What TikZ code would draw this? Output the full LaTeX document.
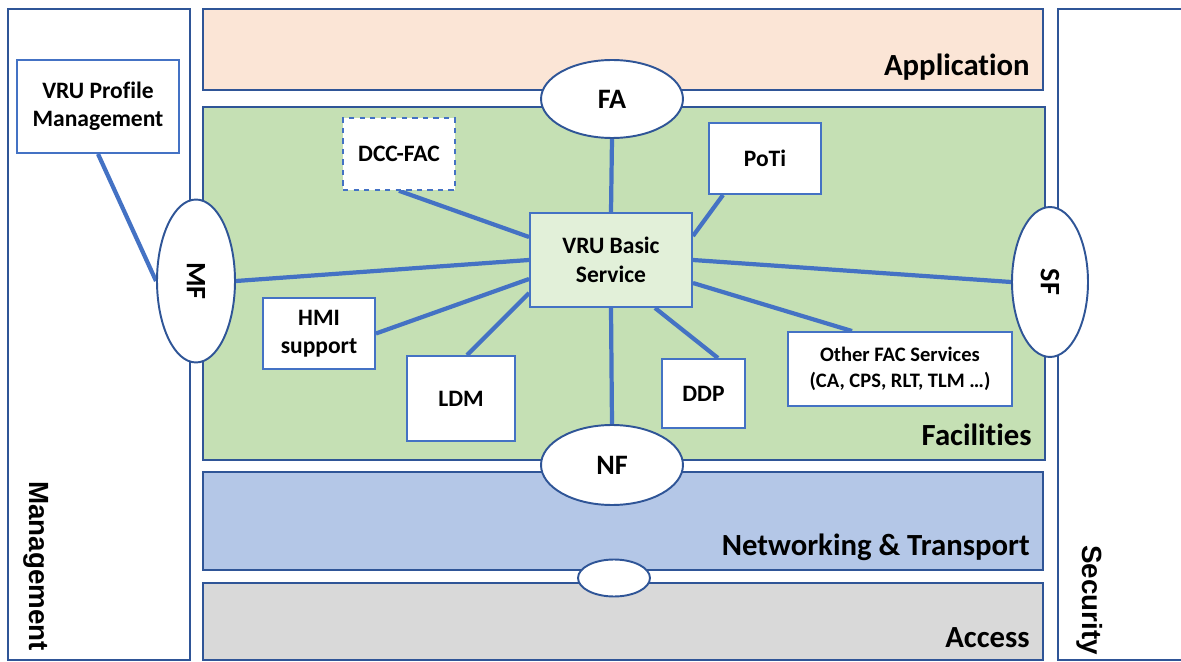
\documentclass[tikz,border=0pt]{standalone}
\usepackage{fontspec}
\setmainfont{Carlito}[Ligatures=NoCommon]
\newfontfamily\arialf{Liberation Sans}
\usetikzlibrary{shapes.geometric}
\definecolor{bord}{HTML}{4472C4}
\definecolor{dbord}{HTML}{2F5597}
\definecolor{appc}{HTML}{FBE5D6}
\definecolor{facc}{HTML}{C5E0B4}
\definecolor{netc}{HTML}{B4C7E7}
\definecolor{accc}{HTML}{D9D9D9}
\definecolor{vruc}{HTML}{E2F0D9}
\pgfdeclarelayer{panel}
\pgfdeclarelayer{wires}
\pgfsetlayers{panel,wires,main}
\tikzset{
  panelbox/.style={draw=dbord, line width=1.1pt},
  layerlbl/.style={anchor=base east, font=\bfseries\fontsize{17.5}{20}\selectfont, inner sep=0pt},
  sidelbl/.style={rotate=-90, font=\arialf\bfseries\fontsize{15.8}{18}\selectfont, inner sep=0pt},
  fbox/.style={draw=bord, line width=1.1pt, fill=white, align=center, inner sep=0pt,
    font=\bfseries\fontsize{13.4}{16.2}\selectfont},
  ell/.style={ellipse, draw=dbord, line width=1.1pt, fill=white, inner sep=0pt},
  elltxt/.style={font=\bfseries\fontsize{16}{18}\selectfont, inner sep=0pt},
  wire/.style={draw=bord, line width=2.4pt}
}
\begin{document}
\begin{tikzpicture}[x=0.02cm,y=-0.02cm]
\useasboundingbox (0,0) rectangle (1181,662);
\clip (0,0) rectangle (1181,662);
\begin{pgfonlayer}{panel}
  \fill[white] (0,0) rectangle (1181,662);
  \draw[panelbox] (8,9) rectangle (190,660);
  \draw[panelbox] (1058,9) rectangle (1200,660);
  \draw[panelbox, fill=appc] (203,9) rectangle (1043,90);
  \draw[panelbox, fill=facc] (203,107) rectangle (1045,460);
  \draw[panelbox, fill=netc] (203,472) rectangle (1043,570);
  \draw[panelbox, fill=accc] (203,583) rectangle (1043,660);
\end{pgfonlayer}
\node[layerlbl] (lapp) at (1030,76) {Application};
\node[layerlbl] (lfac) at (1032,446) {Facilities};
\node[layerlbl] (lnet) at (1030,555) {Networking \& Transport};
\node[layerlbl] (lacc) at (1030,647) {Access};
\node[sidelbl] (lman) at (36,566) {Management};
\node[sidelbl] (lsec) at (1090,600) {Security};

\node[fbox, minimum width=3.24cm, minimum height=1.86cm] (prof) at (98,106.5) {VRU Profile\\Management};
\node[fbox, dashed, line width=0.9pt, minimum width=2.24cm, minimum height=1.44cm] (dcc) at (399,154) {DCC-FAC};
\node[fbox, fill=vruc, minimum width=3.24cm, minimum height=1.88cm] (vru) at (611,260) {VRU Basic\\Service};
\node[fbox, minimum width=2.24cm, minimum height=1.42cm] (poti) at (765,158.5) {PoTi};
\node[fbox, minimum width=4.48cm, minimum height=1.48cm, font=\bfseries\fontsize{11.7}{15}\selectfont] (other) at (900,369) {Other FAC Services\\(CA, CPS, RLT, TLM \dots)};
\node[fbox, minimum width=1.66cm, minimum height=1.38cm] (ddp) at (703.5,393.5) {DDP};
\node[fbox, minimum width=2.16cm, minimum height=1.70cm] (ldm) at (461,398.5) {LDM};
\node[fbox, minimum width=2.24cm, minimum height=1.42cm] (hmi) at (319,333.5) {HMI\\support};

\node[ell, minimum width=1.56cm, minimum height=3.26cm] (mf) at (196,281) {};
\node[elltxt, rotate=-90] (mft) at (mf) {MF};
\node[ell, minimum width=2.84cm, minimum height=1.56cm] (fa) at (612,99) {};
\node[elltxt] (fat) at (fa) {FA};
\node[ell, minimum width=1.52cm, minimum height=3.0cm] (sf) at (1050,282) {};
\node[elltxt, rotate=-90] (sft) at (sf) {SF};
\node[ell, minimum width=2.84cm, minimum height=1.6cm] (nf) at (612,465) {};
\node[elltxt] (nft) at (nf) {NF};
\node[ell, minimum width=1.44cm, minimum height=0.74cm] (acc) at (614,578) {};

\begin{pgfonlayer}{wires}
  \draw[wire] (prof.south) -- (mf.west);
  \draw[wire] (mf.east) -- (vru.west);
  \draw[wire] (dcc.south) -- ([yshift=0.46cm]vru.west);
  \draw[wire] (fa.south) -- (vru.north);
  \draw[wire] ([xshift=0.3cm]poti.south west) -- ([yshift=0.48cm]vru.east);
  \draw[wire] (vru.east) -- (sf.west);
  \draw[wire] ([yshift=-0.46cm]vru.east) -- ([xshift=-0.96cm]other.north);
  \draw[wire] ([xshift=0.88cm]vru.south) -- ([xshift=0.29cm]ddp.north);
  \draw[wire] (vru.south) -- (nf.north);
  \draw[wire] ([yshift=-0.66cm]vru.west) -- ([xshift=0.12cm]ldm.north);
  \draw[wire] ([yshift=-0.38cm]vru.west) -- (hmi.east);
\end{pgfonlayer}
\end{tikzpicture}
\end{document}
